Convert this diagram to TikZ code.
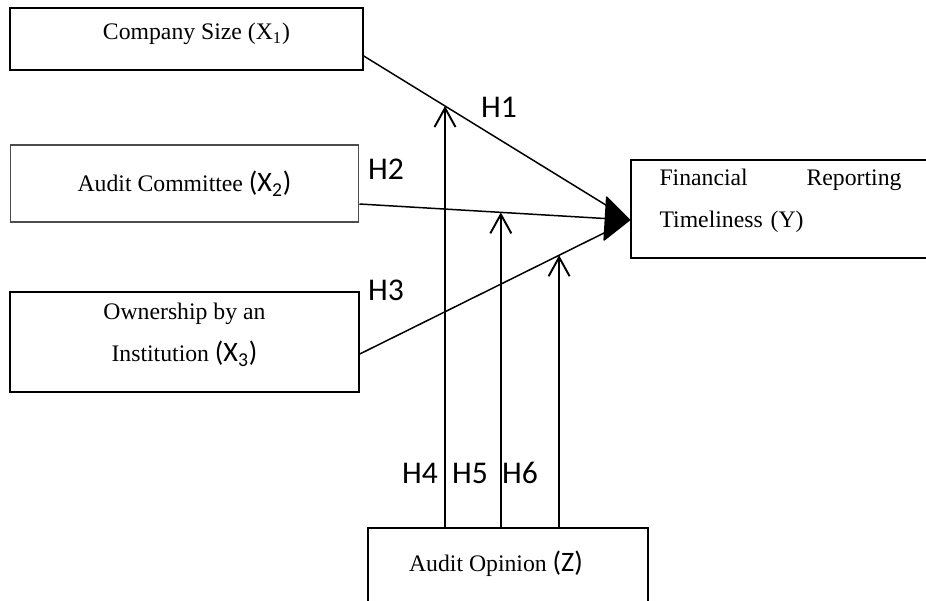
\documentclass[tikz,border=0pt]{standalone}
\usepackage{fontspec}
\setmainfont{Liberation Serif}
\newfontfamily\hfont{Carlito}
\usetikzlibrary{arrows.meta, calc}
\newcommand{\varx}[1]{{\hfont\fontsize{16}{16}\selectfont(#1)}}
\tikzset{
    box/.style={
        rectangle, draw=black, line width=0.9pt, inner sep=0pt,
        align=center, font=\fontsize{13.5}{24}\selectfont
    },
    thinbox/.style={box, draw=black!70, line width=0.6pt},
    link/.style={line width=0.85pt},
    bighead/.style={-{Triangle[length=5.2mm, width=9.2mm, round]}, line width=0.85pt},
    barb/.style={-{Straight Barb[length=3.8mm, width=4.2mm]}, line width=1.1pt},
    hyp/.style={font=\hfont\fontsize{18}{18}\selectfont},
}

\begin{document}
\begin{tikzpicture}[x=0.02cm, y=-0.02cm]
    \useasboundingbox (0,0) rectangle (926,600);
    \clip (0,0) rectangle (926,600);

    \node[box, minimum width=7.06cm, minimum height=1.24cm, text depth=3mm] (size) at (186.5,39) {\hspace*{4mm}Company Size (X\textsubscript{1})};
    \node[thinbox, minimum width=6.98cm, minimum height=1.54cm] (comm) at (184.5,183.5) {Audit Committee \varx{X\textsubscript{2}}};
    \node[box, minimum width=6.98cm, minimum height=2cm, text depth=3.8mm] (inst) at (184.5,342) {Ownership by an\\Institution \varx{X\textsubscript{3}}};
    \node[box, minimum width=5.98cm, minimum height=1.96cm, text width=4.84cm, align=left, text depth=12.6mm] (fin) at (780.5,209) {Financial\hfill Reporting\\Timeliness (Y)};
    \node[box, minimum width=5.6cm, minimum height=1.64cm, text depth=3mm] (op) at (508,569) {Audit Opinion \varx{Z}\hspace*{4.8mm}};

    \coordinate (tip) at ($(fin.west)+(0,11)$);
    \coordinate (s1) at ($(size.east)+(0,17)$);
    \coordinate (s2) at ($(comm.east)+(0,20.5)$);
    \coordinate (s3) at ($(inst.east)+(0,12)$);

    \draw[link, shorten >=2mm] (s1) -- (tip);
    \draw[link, shorten >=2mm] (s3) -- (tip);
    \draw[bighead] (s2) -- (tip);

    % moderating paths
    \coordinate (m1) at ($(s1)!0.305!(tip)$);
    \coordinate (m2) at ($(s2)!0.522!(tip)$);
    \coordinate (m3) at ($(s3)!0.737!(tip)$);
    \draw[barb] (op.north -| m1) -- (m1);
    \draw[barb] (op.north -| m2) -- (m2);
    \draw[barb] (op.north -| m3) -- (m3);

    \node[hyp] (h1) at (499,107) {H1};
    \node[hyp] (h2) at (386,169) {H2};
    \node[hyp] (h3) at (386,290) {H3};
    \node[hyp] (h4) at (420,473) {H4};
    \node[hyp] (h5) at (470,473) {H5};
    \node[hyp] (h6) at (520,473) {H6};
\end{tikzpicture}
\end{document}
